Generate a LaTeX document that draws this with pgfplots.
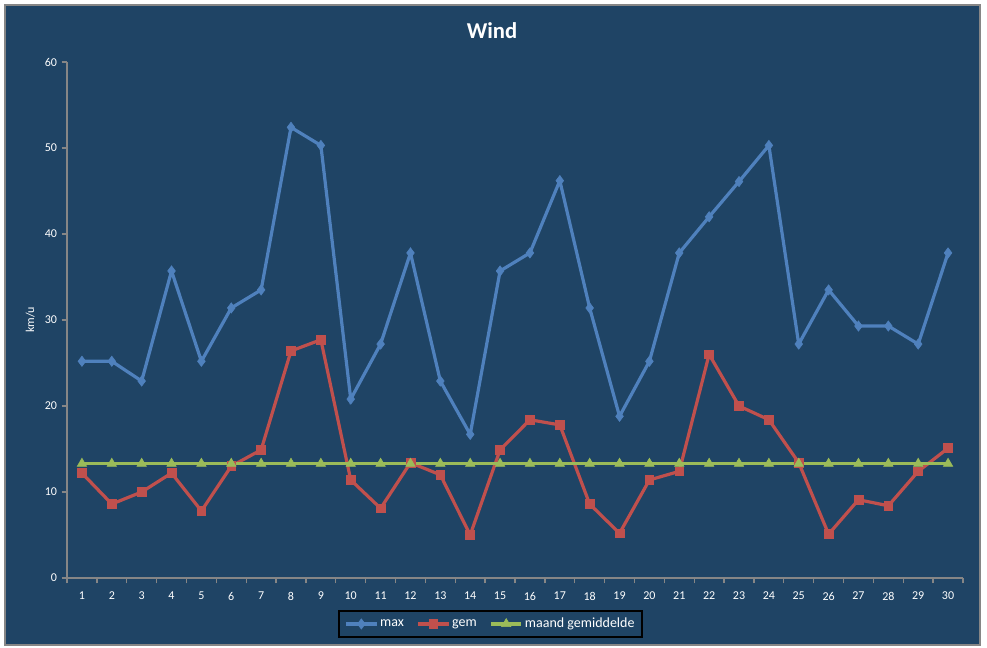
\documentclass[border=0pt]{standalone}
\usepackage{fontspec}
\setmainfont{Carlito}
\usepackage{pgfplots}
\pgfplotsset{compat=1.18}
\definecolor{bgnavy}{HTML}{1F4465}
\definecolor{framegray}{HTML}{868686}
\definecolor{smax}{HTML}{4F81BD}
\definecolor{sgem}{HTML}{C0504D}
\definecolor{smaand}{HTML}{9BBB59}
\begin{document}
\begin{tikzpicture}
% 1 px of the reference = 0.75pt
\useasboundingbox (0,0) rectangle (740.25pt,486pt);
\fill[white] (0,0) rectangle (740.25pt,486pt);
\filldraw[fill=bgnavy, draw=framegray, line width=1.5pt] (3.75pt,2.25pt) rectangle (735pt,482.25pt);
\node[text=white, font=\fontsize{17}{20}\selectfont\bfseries] at (369pt,463pt) {Wind};
\begin{axis}[
  at={(50.25pt,52.5pt)}, anchor=south west,
  scale only axis,
  width=672pt, height=387pt,
  xmin=0.5, xmax=30.5,
  ymin=0, ymax=60,
  axis x line*=bottom, axis y line*=left,
  axis line style={draw=framegray, line width=1pt, -},
  xtick={1,...,30},
  minor xtick={0.5,1.5,...,30.5},
  major x tick style={draw=none},
  minor x tick style={draw=framegray, line width=1pt},
  ytick={0,10,...,60},
  y tick style={draw=framegray, line width=1pt},
  tick align=outside,
  major tick length=4pt, minor tick length=4pt,
  ticklabel style={text=white, font=\fontsize{9}{11}\selectfont},
  /pgf/number format/assume math mode=true,
  xticklabel style={yshift=-3pt},
  ylabel={km/u},
  ylabel style={text=white, font=\fontsize{9}{11}\selectfont, at={(axis description cs:-0.041,0.5)}, anchor=center},
  legend columns=-1,
  legend style={
    at={(axis description cs:0.4727,-0.0891)}, anchor=center,
    fill=bgnavy, draw=black, line width=1.2pt,
    text=white, font=\fontsize{10.5}{12}\selectfont,
    /tikz/every even column/.append style={column sep=8pt},
    inner xsep=4pt, inner ysep=4pt,
    nodes={inner sep=1.5pt}
  },
  legend image code/.code={\draw[mark repeat=2,mark phase=2] plot coordinates {(0cm,0cm)(0.4cm,0cm)(0.8cm,0cm)};},
]
\addplot[smax, line width=2.4pt, mark=diamond*, mark size=3.8pt, mark options={line width=0.5pt}] coordinates {
 (1,25.2) (2,25.2) (3,22.9) (4,35.7) (5,25.2) (6,31.4) (7,33.5) (8,52.4) (9,50.3) (10,20.8)
 (11,27.2) (12,37.8) (13,22.9) (14,16.7) (15,35.7) (16,37.8) (17,46.2) (18,31.4) (19,18.8) (20,25.2)
 (21,37.8) (22,42.0) (23,46.1) (24,50.3) (25,27.2) (26,33.5) (27,29.3) (28,29.3) (29,27.2) (30,37.8)};
\addplot[sgem, line width=2.4pt, mark=square*, mark size=3.3pt, mark options={line width=0.5pt}] coordinates {
 (1,12.2) (2,8.6) (3,10.0) (4,12.2) (5,7.8) (6,13.0) (7,14.9) (8,26.4) (9,27.7) (10,11.4)
 (11,8.1) (12,13.4) (13,12.0) (14,5.0) (15,14.9) (16,18.4) (17,17.8) (18,8.6) (19,5.2) (20,11.4)
 (21,12.4) (22,26.0) (23,20.0) (24,18.4) (25,13.4) (26,5.1) (27,9.1) (28,8.4) (29,12.4) (30,15.1)};
\addplot[smaand, line width=2.4pt, mark=triangle*, mark size=4pt, mark options={line width=0.5pt}] coordinates {
 (1,13.3) (2,13.3) (3,13.3) (4,13.3) (5,13.3) (6,13.3) (7,13.3) (8,13.3) (9,13.3) (10,13.3)
 (11,13.3) (12,13.3) (13,13.3) (14,13.3) (15,13.3) (16,13.3) (17,13.3) (18,13.3) (19,13.3) (20,13.3)
 (21,13.3) (22,13.3) (23,13.3) (24,13.3) (25,13.3) (26,13.3) (27,13.3) (28,13.3) (29,13.3) (30,13.3)};
\legend{max, gem, maand gemiddelde}
\end{axis}
\end{tikzpicture}
\end{document}
